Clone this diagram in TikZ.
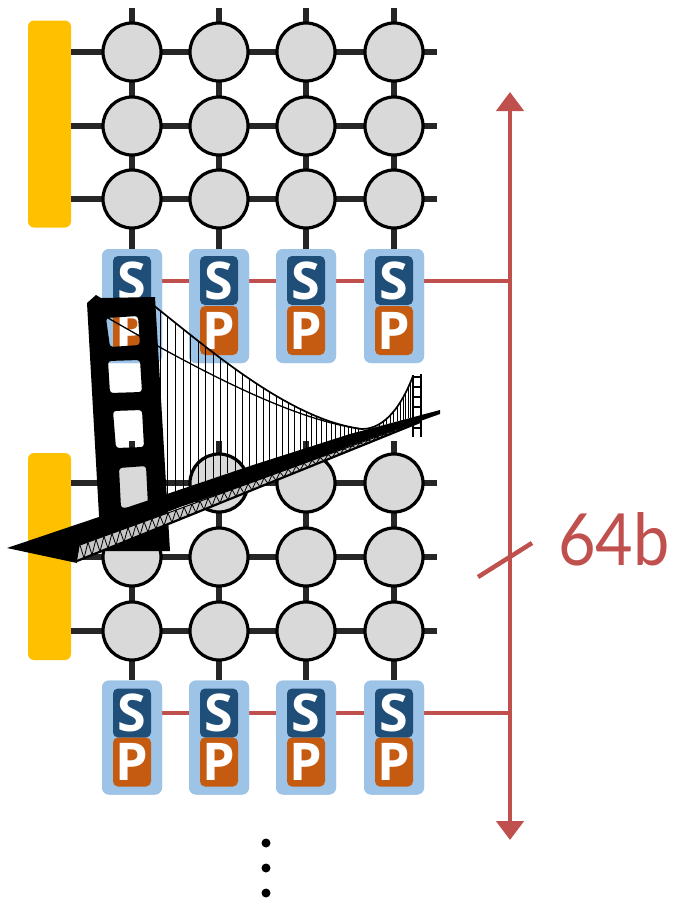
\documentclass[tikz,border=0pt]{standalone}
\usepackage{fontspec}
\newfontfamily\sansbold{Open Sans}
\newfontfamily\labelfont{Lato}[FakeStretch=0.9]
\usetikzlibrary{arrows.meta}

\definecolor{barYellow}{HTML}{FFC000}
\definecolor{peGray}{HTML}{D9D9D9}
\definecolor{wireDark}{HTML}{262626}
\definecolor{spBlue}{HTML}{9DC3E6}
\definecolor{sDark}{HTML}{1F4E79}
\definecolor{pOrange}{HTML}{C55A11}
\definecolor{busRed}{HTML}{C0504D}

\begin{document}
\begin{tikzpicture}[x=1pt,y=-1pt,
  bar/.style={fill=barYellow, rounded corners=6pt, minimum width=43pt, minimum height=207pt, inner sep=0pt},
  pe/.style={circle, draw=black, line width=3.2pt, fill=peGray, minimum size=58pt, inner sep=0pt},
  wire/.style={wireDark, line width=5.5pt},
  spframe/.style={fill=spBlue, rounded corners=7pt, minimum width=60pt, minimum height=114pt, inner sep=0pt},
  letterbox/.style={rounded corners=5pt, minimum width=38pt, minimum height=49pt, inner sep=0pt,
    text=white, font=\sansbold\bfseries\fontsize{52}{52}\selectfont},
  bus/.style={busRed, line width=4.5pt},
  hanger/.style={black, line width=0.8pt},
  dotmark/.style={circle, fill=black, minimum size=9pt, inner sep=0pt},
  declare function={
    decktop(\x) = (\x<250) ? 548-0.3374*(\x-7) : ((\x<350) ? 466-0.32*(\x-250) : 434-0.2667*(\x-350));
    bez(\t,\a,\b,\c,\d) = (1-\t)^3*\a + 3*(1-\t)^2*\t*\b + 3*(1-\t)*\t^2*\c + \t^3*\d;
  },
]
\useasboundingbox (0,0) rectangle (673,900);

% ---------- memory controllers ----------
\node[bar] (bar1) at (49.5,124) {};
\node[bar] (bar2) at (49.5,556.5) {};

% ---------- wiring of both meshes ----------
\foreach \c/\x in {1/132,2/219,3/306,4/394}{
  \coordinate (ttop-\c) at (\x,8);
  \coordinate (btop-\c) at (\x,441);
  \node[spframe] (spt-\c) at (\x,306) {};
  \node[spframe] (spb-\c) at (\x,737.5) {};
  \draw[wire] (ttop-\c) -- (spt-\c.north);
  \draw[wire] (btop-\c) -- (spb-\c.north);
}
\foreach \r/\y in {1/52,2/126,3/199}{
  \coordinate (tend-\r) at (437,\y);
  \draw[wire] (bar1.east |- tend-\r) -- (tend-\r);
}
\foreach \r/\y in {1/483,2/557,3/631}{
  \coordinate (bend-\r) at (437,\y);
  \draw[wire] (bar2.east |- bend-\r) -- (bend-\r);
}

% ---------- processing elements ----------
\foreach \c/\x in {1/132,2/219,3/306,4/394}{
  \foreach \r/\y in {1/52,2/126,3/199}{
    \node[pe] (t-\r-\c) at (\x,\y) {};
  }
  \foreach \r/\y in {1/483,2/557,3/631}{
    \node[pe] (b-\r-\c) at (\x,\y) {};
  }
}

% ---------- red buses behind the S/P tiles ----------
\coordinate (bus-top) at (510,281);
\coordinate (bus-bot) at (510,713);
\draw[bus] (132,281) -- (bus-top);
\draw[bus] (132,713) -- (bus-bot);

% ---------- S/P tiles ----------
\foreach \c/\x in {1/132,2/219,3/306,4/394}{
  \node[spframe] at (spt-\c) {};
  \node[spframe] at (spb-\c) {};
  \node[letterbox, fill=sDark]   (st-\c) at (\x,280.5) {S};
  \node[letterbox, fill=pOrange] (pt-\c) at (\x,330.5) {P};
  \node[letterbox, fill=sDark]   (sb-\c) at (\x,713) {S};
  \node[letterbox, fill=pOrange] (pb-\c) at (\x,762) {P};
}

% ---------- 64-bit vertical bus ----------
\coordinate (arr-hi) at (510,92);
\coordinate (arr-lo) at (510,840);
\draw[bus, {Triangle[width=27pt,length=19pt]}-{Triangle[width=27pt,length=19pt]}] (arr-hi) -- (arr-lo);
\coordinate (slash-a) at (478,577);
\coordinate (slash-b) at (532,543);
\draw[bus] (slash-a) -- (slash-b);
\node[text=busRed, font=\labelfont\fontsize{72}{72}\selectfont, anchor=base west, inner sep=0pt]
  (width-label) at (558,565) {64b};

% ---------- continuation dots ----------
\foreach \i/\y in {1/843,2/868,3/893}{
  \node[dotmark] (dot-\i) at (266,\y) {};
}

% ---------- suspension bridge silhouette ----------
% hangers from the main span cable down to the deck (closer together with distance)
\foreach \i in {0,...,34}{
  \pgfmathsetmacro{\u}{\i/35}
  \pgfmathsetmacro{\t}{\u*(1.5-0.5*\u)}
  \pgfmathsetmacro{\hx}{bez(\t,153,210,290,362)}
  \pgfmathsetmacro{\hy}{bez(\t,305,350,420,429)}
  \draw[hanger] (\hx,\hy) -- (\hx,{decktop(\hx)});
}
% hangers of the rising cable towards the far tower
\foreach \i in {3,...,14}{
  \pgfmathsetmacro{\t}{\i/15}
  \pgfmathsetmacro{\hx}{bez(\t,362,385,402,413)}
  \pgfmathsetmacro{\hy}{bez(\t,429,429,405,376)}
  \draw[hanger, line width=0.6pt] (\hx,\hy) -- (\hx,{decktop(\hx)});
}
% main cables
\draw[line width=1.7pt] (153,305) .. controls (210,350) and (290,420) .. (362,429)
  .. controls (385,429) and (402,405) .. (413,376);
\draw[line width=1.3pt] (108,318) .. controls (190,365) and (290,420) .. (362,429);

% far tower
\draw[line width=2pt] (413,375) -- (413,437) (421,374) -- (421,437);
\foreach \y in {377,387,397,407,418,428}{
  \draw[line width=1.8pt] (413,\y) -- (421,\y);
}

% near tower with its openings
\fill[black, even odd rule]
  (87,303) -- (96,295) -- (101,298) -- (155,297) -- (170,551) -- (101,551) -- cycle
  [rounded corners=3pt]
  (106,318) -- (138,316) -- (140,345) -- (110,347) -- cycle
  (108,361) -- (140,360) -- (142,392) -- (110,393) -- cycle
  (113,411) -- (142,410) -- (144,447) -- (116,448) -- cycle
  (119,468) -- (146,466) -- (148,506) -- (121,508) -- cycle;

% deck
\fill[black] (7,548) -- (250,466) -- (350,434) -- (440,410) -- (440,414)
  -- (350,446) -- (250,484) -- (183,506) -- (80,545) -- (77,563) -- cycle;
% truss band under the deck
\fill[gray!45] (80,545) -- (420,421) -- (77,561) -- cycle;
\draw[line width=0.8pt] plot[domain=0:85, samples=86]
  ({80+4*\x}, {545-0.3647*(4*\x) + mod(round(\x),2)*((561-0.4052*(3+4*\x)) - (545-0.3647*(4*\x)))});
\draw[line width=1pt] (80,545) -- (420,421);
\draw[line width=2.2pt] (77,561) -- (420,422);
\end{tikzpicture}
\end{document}
